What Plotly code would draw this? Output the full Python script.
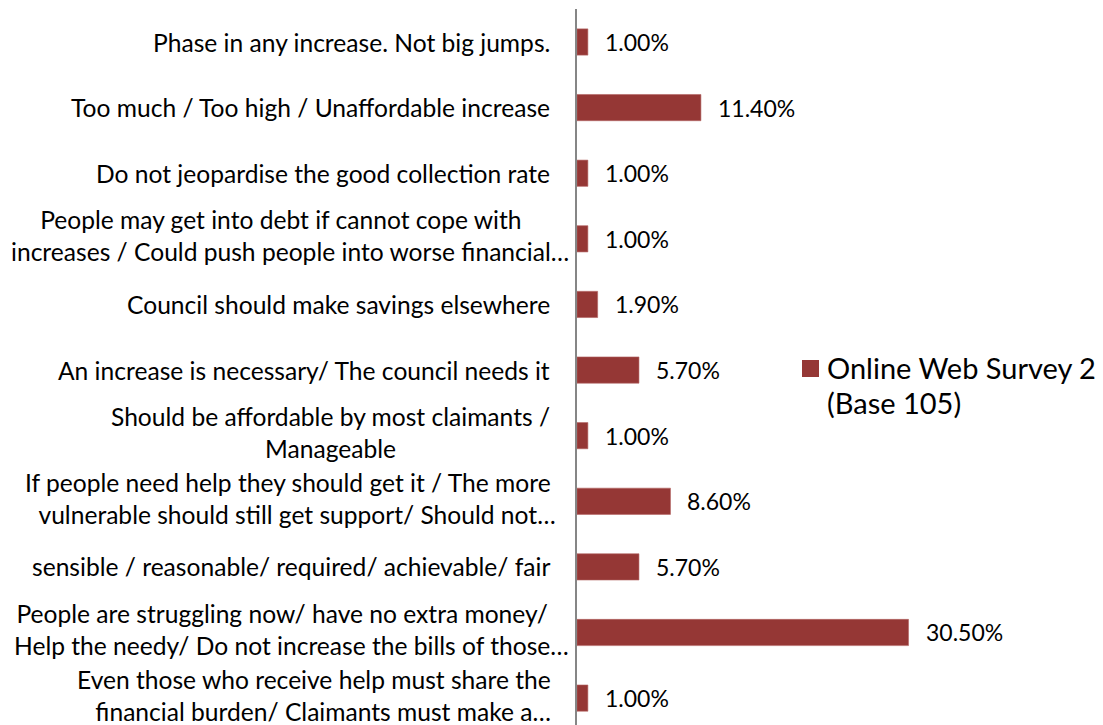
import plotly.graph_objects as go

# Survey responses, listed top to bottom as shown on the chart
categories = [
    ["Phase in any increase. Not big jumps."],
    ["Too much / Too high / Unaffordable increase"],
    ["Do not jeopardise the good collection rate"],
    ["People may get into debt if cannot cope with",
     "increases / Could push people into worse financial\u2026"],
    ["Council should make savings elsewhere"],
    ["An increase is necessary/ The council needs it"],
    ["Should be affordable by most claimants /", "Manageable"],
    ["If people need help they should get it / The more",
     "vulnerable should still get support/ Should not\u2026"],
    ["sensible / reasonable/ required/ achievable/ fair"],
    ["People are struggling now/ have no extra money/",
     "Help the needy/ Do not increase the bills of those\u2026"],
    ["Even those who receive help must share the",
     "financial burden/ Claimants must make a\u2026"],
]
values = [1.0, 11.4, 1.0, 1.0, 1.9, 5.7, 1.0, 8.6, 5.7, 30.5, 1.0]
series_name = ["Online Web Survey 2", "(Base 105)"]

BAR_COLOR = "#953735"
FONT = "Lato"
FS_CAT = 24.6
FS_VAL = 23
FS_LEG = 29

W, H = 1103, 725
ML, MT = 577, 9
plot_w = W - ML
px_per_unit = 10.87
x_max = plot_w / px_per_unit

n = len(values)
ypos = [n - 1 - i for i in range(n)]

fig = go.Figure()
fig.add_trace(go.Bar(
    x=values, y=ypos, orientation="h",
    marker=dict(color=BAR_COLOR, line=dict(color="#b46563", width=0.6)),
    width=0.40, showlegend=False, hoverinfo="x",
))

annotations = []
HIDDEN = '<span style="color:rgba(0,0,0,0)">\u2026</span>'


def px_to_paper(px):
    return (px - ML) / plot_w


# category labels: lines centred on each other, ellipsis hanging past the edge
for lines, y in zip(categories, ypos):
    has_ellipsis = any(l.endswith("\u2026") for l in lines)
    parts = []
    for line in lines:
        if has_ellipsis and not line.endswith("\u2026"):
            line = line + HIDDEN
        parts.append(line)
    annotations.append(dict(
        x=px_to_paper(571 if has_ellipsis else 552), xref="paper",
        y=y, yref="y", xanchor="right", yanchor="middle",
        align="center", showarrow=False,
        yshift=3 if len(lines) > 1 else 0,
        text="<br>".join(parts),
        font=dict(family=FONT, size=FS_CAT, color="#000000"),
    ))

# value labels
for v, y in zip(values, ypos):
    annotations.append(dict(
        x=v, xref="x", y=y, yref="y", xanchor="left", yanchor="middle",
        xshift=15, showarrow=False, text=f"{v:.2f}%",
        font=dict(family=FONT, size=FS_VAL, color="#000000"),
    ))

# legend
for i, line in enumerate(series_name):
    annotations.append(dict(
        x=px_to_paper(825), xref="paper", y=1 - (367 + 35 * i - MT) / (H - MT),
        yref="paper", xanchor="left", yanchor="middle", showarrow=False,
        text=line, font=dict(family=FONT, size=FS_LEG, color="#000000"),
    ))

shapes = [dict(
    type="rect", xref="paper", yref="paper",
    x0=px_to_paper(802), x1=px_to_paper(819),
    y0=1 - (377 - MT) / (H - MT), y1=1 - (360 - MT) / (H - MT),
    fillcolor=BAR_COLOR, line=dict(width=0),
)]

fig.update_layout(
    width=W, height=H,
    margin=dict(l=ML, r=0, t=MT, b=0),
    paper_bgcolor="white", plot_bgcolor="white",
    xaxis=dict(range=[0, x_max], visible=False, fixedrange=True),
    yaxis=dict(range=[-0.41, n - 1 + 0.503], showticklabels=False,
               showgrid=False, zeroline=False, showline=True,
               linecolor="#868686", linewidth=2, ticks=""),
    annotations=annotations, shapes=shapes,
    bargap=0.6, showlegend=False,
)

fig.write_html("out.html")
